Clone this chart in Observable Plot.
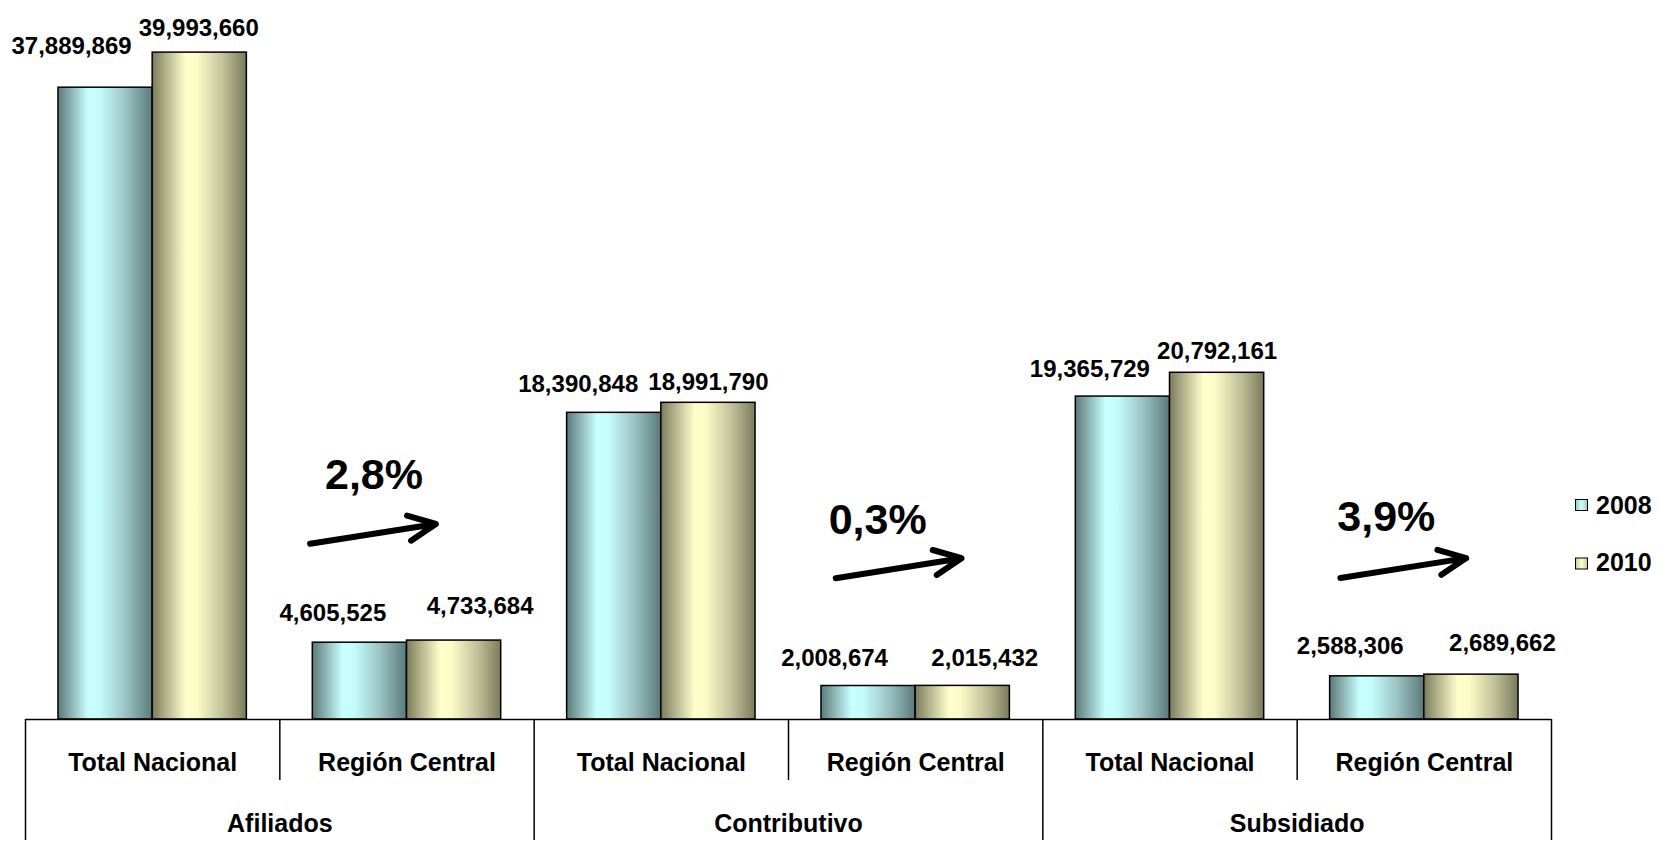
<!DOCTYPE html>
<html>
<head>
<meta charset="utf-8">
<script src="https://cdn.jsdelivr.net/npm/d3@7"></script>
<script src="https://cdn.jsdelivr.net/npm/@observablehq/plot@0.6"></script>
<style>
  html, body { margin: 0; padding: 0; background: #fff; }
  #chart { width: 1677px; height: 842px; }
</style>
</head>
<body>
<div id="chart"></div>
<script>
// ---- data ----
const groups = ["Afiliados", "Contributivo", "Subsidiado"];
const regions = ["Total Nacional", "Región Central"];
const years = ["2008", "2010"];
const values2008 = [37889869, 4605525, 18390848, 2008674, 19365729, 2588306];
const values2010 = [39993660, 4733684, 18991790, 2015432, 20792161, 2689662];
const growth = ["2,8%", "0,3%", "3,9%"];

// ---- layout (pixels / offsets, not data) ----
const W = 1677, H = 842;
const mL = 25, mR = 126, mT = 52, mB = 123;
const frameH = H - mT - mB;
// manual label nudges [dx, dy] per bar (2008, 2010) as placed in the original
const labelNudge = [
  [[-34, -34], [-1, -17]],
  [[-27, -22], [26, -27]],
  [[-36, -21], [0, -13]],
  [[-34, -20], [22, -20]],
  [[-33, -20], [0, -14]],
  [[-27, -22], [31, -24]]
];
const pctNudge = [[-33, -231], [-38, -186], [-38, -189]];
const arrowDx = [-34, -17, -21];
const arrowY = [[10.69e6, 11.58e6], [8.62e6, 9.52e6], [8.64e6, 9.53e6]];

// ---- derived tables ----
const keys = groups.flatMap(g => regions.map(r => g + "|" + r));
const bars = keys.flatMap((k, i) => [
  {key: k, year: years[0], value: values2008[i], nudge: labelNudge[i][0]},
  {key: k, year: years[1], value: values2010[i], nudge: labelNudge[i][1]}
]);
const fmt = d3.format(",");
const bw = (W - mL - mR) / keys.length;
const annots = groups.map((g, i) => ({key: g + "|" + regions[1], text: growth[i], i}));

const font = "'Liberation Sans', Arial, Helvetica, sans-serif";

const marks = [
  // bars
  Plot.barY(bars.filter(d => d.year === years[0]), {
    fx: "key", x: "year", y: "value", fill: "url(#g2008)", stroke: "#000", strokeWidth: 1.5
  }),
  Plot.barY(bars.filter(d => d.year === years[1]), {
    fx: "key", x: "year", y: "value", fill: "url(#g2010)", stroke: "#000", strokeWidth: 1.5
  }),
  // baseline
  Plot.ruleY([0], {stroke: "#000", strokeWidth: 1.5}),
  // sub-category separators
  Plot.ruleX(keys.filter((k, i) => i % 2 === 1), {
    fx: d => d, x: null, dx: -bw / 2, insetTop: frameH, insetBottom: -61, stroke: "#000", strokeWidth: 1.5
  }),
  // group separators
  Plot.ruleX(keys.filter((k, i) => i % 2 === 0), {
    fx: d => d, x: null, dx: -bw / 2, insetTop: frameH, insetBottom: -121, stroke: "#000", strokeWidth: 1.5
  }),
  Plot.ruleX([keys[keys.length - 1]], {
    fx: d => d, x: null, dx: bw / 2, insetTop: frameH, insetBottom: -121, stroke: "#000", strokeWidth: 1.5
  }),
  // category labels
  Plot.text(keys, {
    fx: d => d, frameAnchor: "bottom", text: d => d.split("|")[1],
    dy: 51, lineAnchor: "bottom", fontSize: 25, fontWeight: "bold"
  }),
  // group labels
  Plot.text(groups, {
    fx: g => g + "|" + regions[0], frameAnchor: "bottom-right", textAnchor: "middle", text: d => d,
    dy: 112, lineAnchor: "bottom", fontSize: 25, fontWeight: "bold"
  }),
  // value labels
  ...bars.map(d => Plot.text([d], {
    fx: "key", x: "year", y: "value", text: b => fmt(b.value),
    dx: d.nudge[0], dy: d.nudge[1], lineAnchor: "bottom", fontSize: 24, fontWeight: "bold"
  })),
  // growth labels
  ...annots.map(a => Plot.text([a], {
    fx: "key", frameAnchor: "bottom", text: "text",
    dx: pctNudge[a.i][0], dy: pctNudge[a.i][1], lineAnchor: "bottom", fontSize: 43, fontWeight: "bold"
  })),
  // arrows
  ...annots.map(a => Plot.arrow([a], {
    fx: "key", x1: () => years[0], x2: () => years[1],
    y1: () => arrowY[a.i][0], y2: () => arrowY[a.i][1],
    dx: arrowDx[a.i], insetStart: -16, insetEnd: -16,
    stroke: "#000", strokeWidth: 6, headLength: 7.5, headAngle: 50
  }))
];

const svg = Plot.plot({
  width: W, height: H,
  marginLeft: mL, marginRight: mR, marginTop: mT, marginBottom: mB,
  style: {fontFamily: font, color: "#000", background: "#fff", overflow: "visible"},
  fx: {domain: keys, padding: 0, round: false, axis: null, label: null},
  x: {domain: years, paddingInner: 0, paddingOuter: 0.35, round: false, axis: null},
  y: {domain: [0, 40000000], axis: null},
  marks
});

svg.insertAdjacentHTML("afterbegin", `
<defs>
  <linearGradient id="g2008" x1="0" y1="0" x2="1" y2="0">
    <stop offset="0" stop-color="#5b7a7a"/>
    <stop offset="0.12" stop-color="#86abab"/>
    <stop offset="0.32" stop-color="#c8ffff"/>
    <stop offset="0.45" stop-color="#c4fbfb"/>
    <stop offset="0.72" stop-color="#9bc3c3"/>
    <stop offset="1" stop-color="#5b7a7a"/>
  </linearGradient>
  <linearGradient id="g2010" x1="0" y1="0" x2="1" y2="0">
    <stop offset="0" stop-color="#7b7b5c"/>
    <stop offset="0.14" stop-color="#b0b08a"/>
    <stop offset="0.36" stop-color="#ffffcc"/>
    <stop offset="0.48" stop-color="#fbfbc8"/>
    <stop offset="0.74" stop-color="#c4c49c"/>
    <stop offset="1" stop-color="#7b7b5c"/>
  </linearGradient>
  <linearGradient id="l2008" x1="0" y1="0" x2="1" y2="0">
    <stop offset="0" stop-color="#9cc6c6"/>
    <stop offset="0.5" stop-color="#ccffff"/>
    <stop offset="1" stop-color="#9cc6c6"/>
  </linearGradient>
  <linearGradient id="l2010" x1="0" y1="0" x2="1" y2="0">
    <stop offset="0" stop-color="#c8c8a0"/>
    <stop offset="0.5" stop-color="#ffffcc"/>
    <stop offset="1" stop-color="#c8c8a0"/>
  </linearGradient>
</defs>`);

// legend
const leg = d3.select(svg).append("g")
  .attr("font-family", font).attr("font-weight", "bold").attr("font-size", 25)
  .attr("text-anchor", "start").attr("fill", "#000");
years.forEach((y, i) => {
  leg.append("rect")
    .attr("x", 1575.5).attr("y", 499.5 + i * 58.5)
    .attr("width", 12).attr("height", 11)
    .attr("fill", `url(#l${y})`).attr("stroke", "#000").attr("stroke-width", 1);
  leg.append("text")
    .attr("x", 1596).attr("y", 513.5 + i * 57.5)
    .attr("text-anchor", "start")
    .text(y);
});

document.getElementById("chart").appendChild(svg);
</script>
</body>
</html>
